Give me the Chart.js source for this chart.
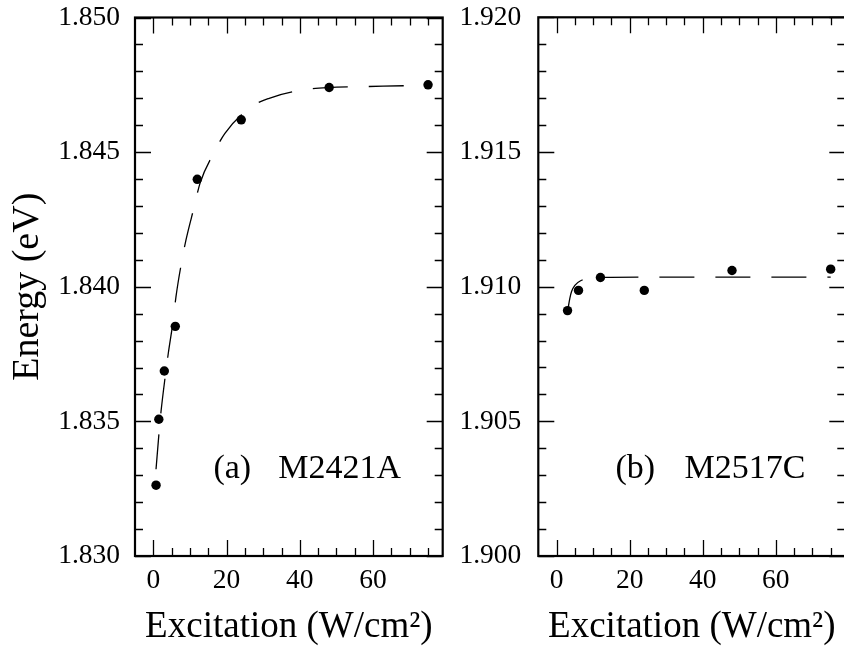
<!DOCTYPE html>
<html><head><meta charset="utf-8">
<script src="https://cdn.jsdelivr.net/npm/chart.js@4.4.0/dist/chart.umd.min.js"></script>
<style>
html,body{margin:0;padding:0;background:#fff;overflow:hidden;width:844px;height:648px;}
#ca{position:absolute;left:0;top:0;}
#cb{position:absolute;left:450px;top:0;}
</style></head><body>
<canvas id="ca" width="450" height="648"></canvas>
<canvas id="cb" width="400" height="648"></canvas>
<script>
// ---- data ----
const excitationA = [0.75, 1.5, 3, 6, 12, 24, 48, 75];
const energyA = [1.83263, 1.83508, 1.83687, 1.83853, 1.84399, 1.84620, 1.84740, 1.84750];
const fitExcitationA = [0.74, 1.55, 2.1, 3.27, 4.09, 5.45, 6.19, 7.74, 8.92, 11.18, 12.74, 16.55, 19.55, 26.37, 31.63, 40.9, 47.8, 56.8, 62.7, 75];
const fitEnergyA = [1.83322, 1.83456, 1.83536, 1.83669, 1.83753, 1.83877, 1.83963, 1.84093, 1.84174, 1.84298, 1.84384, 1.84498, 1.84570, 1.84665, 1.84700, 1.84731, 1.84740, 1.84743, 1.84745, 1.84748];

const excitationB = [3, 6, 12, 24, 48, 75];
const energyB = [1.90911, 1.90986, 1.91034, 1.90986, 1.91060, 1.91065];
const fitExcitationB = [3.1, 3.6, 4.1, 5.0, 6.6, 9.0, 12.0, 24, 48, 75];
const fitEnergyB = [1.90915, 1.90955, 1.90982, 1.91005, 1.91022, 1.91030, 1.91034, 1.91035, 1.91035, 1.91035];

const xTickValues = [0, 20, 40, 60];
const yTickValuesA = [1.830, 1.835, 1.840, 1.845, 1.850];
const yTickValuesB = [1.900, 1.905, 1.910, 1.915, 1.920];
const xAxisTitle = 'Excitation (W/cm\u00B2)';
const yAxisTitle = 'Energy (eV)';
const panelTextA = ['(a)', 'M2421A'];
const panelTextB = ['(b)', 'M2517C'];

// ---- styling ----
const FONT = '"Liberation Serif", "Times New Roman", Times, serif';

const frameTicks = {
  id: 'frameTicks',
  afterDatasetsDraw(chart, args, opts) {
    const {ctx, chartArea: a, scales: {x, y}} = chart;
    ctx.save();
    ctx.strokeStyle = '#000';
    ctx.lineWidth = 1.3;
    ctx.beginPath();
    for (let i = 0; i <= 15; i++) {
      const v = i * 5;
      const px = Math.round(x.getPixelForValue(v)) + 0.5;
      const len = (v % 20 === 0) ? 16 : 8;
      ctx.moveTo(px, a.bottom); ctx.lineTo(px, a.bottom - len);
      ctx.moveTo(px, a.top); ctx.lineTo(px, a.top + len);
    }
    for (let i = 0; i <= 20; i++) {
      const v = y.min + i * 0.001;
      const py = Math.round(y.getPixelForValue(v)) + 0.5;
      const len = (i % 5 === 0) ? 16 : 8;
      ctx.moveTo(a.left, py); ctx.lineTo(a.left + len, py);
      ctx.moveTo(a.right, py); ctx.lineTo(a.right - len, py);
    }
    ctx.stroke();
    ctx.lineWidth = 2.2;
    ctx.strokeRect(a.left, a.top, a.right - a.left, a.bottom - a.top);
    // panel label
    ctx.fillStyle = '#000';
    ctx.font = '34px ' + FONT;
    ctx.textBaseline = 'alphabetic';
    ctx.textAlign = 'left';
    opts.labels.forEach(l => {
      ctx.fillText(l.text, x.getPixelForValue(l.x), y.getPixelForValue(l.y));
    });
    ctx.restore();
  }
};

function noPad(s) { s.paddingTop = 0; s.paddingBottom = 0; s.paddingLeft = 0; s.paddingRight = 0; }

function makeChart(id, cfg) {
  return new Chart(document.getElementById(id), {
    type: 'scatter',
    data: {
      datasets: [
        {
          data: cfg.fitX.map((v, i) => ({x: v, y: cfg.fitY[i]})),
          showLine: true,
          borderColor: '#000',
          borderWidth: 1.3,
          borderDash: [35, 21],
          pointRadius: 0,
          cubicInterpolationMode: 'monotone',
          fill: false
        },
        {
          data: cfg.xs.map((v, i) => ({x: v, y: cfg.ys[i]})),
          showLine: false,
          pointRadius: 4.7,
          pointBackgroundColor: '#000',
          pointBorderColor: '#000',
          pointBorderWidth: 0
        }
      ]
    },
    options: {
      responsive: false,
      animation: false,
      devicePixelRatio: 1,
      layout: {padding: cfg.padding},
      plugins: {
        legend: {display: false},
        tooltip: {enabled: false},
        frameTicks: {labels: cfg.labels}
      },
      scales: {
        x: {
          type: 'linear',
          min: -5, max: 79,
          grid: {display: false, drawTicks: false},
          border: {display: false},
          afterBuildTicks: s => { s.ticks = xTickValues.map(v => ({value: v})); },
          afterFit: s => { s.height = 92; noPad(s); },
          ticks: {
            padding: 8,
            color: '#000',
            font: {family: FONT, size: 27.5},
            callback: v => String(v)
          },
          title: {
            display: true,
            text: xAxisTitle,
            color: '#000',
            font: {family: FONT, size: 37, lineHeight: 1.1},
            padding: {top: 0, bottom: 0}
          }
        },
        y: {
          type: 'linear',
          min: cfg.yTicks[0], max: cfg.yTicks[cfg.yTicks.length - 1],
          grid: {display: false, drawTicks: false},
          border: {display: false},
          afterBuildTicks: s => { s.ticks = cfg.yTicks.map(v => ({value: v})); },
          afterFit: s => { s.width = cfg.yWidth; noPad(s); },
          ticks: {
            padding: cfg.yPad,
            color: '#000',
            font: {family: FONT, size: 27.5},
            callback: v => Number(v).toFixed(3)
          },
          title: {
            display: cfg.showYTitle,
            text: yAxisTitle,
            color: '#000',
            font: {family: FONT, size: 38, lineHeight: 1.1},
            padding: {top: 7, bottom: 0}
          }
        }
      }
    },
    plugins: [frameTicks]
  });
}

makeChart('ca', {
  xs: excitationA, ys: energyA, fitX: fitExcitationA, fitY: fitEnergyA,
  yTicks: yTickValuesA, yWidth: 135, yPad: 15, showYTitle: true,
  padding: {top: 17.5, right: 7.3, left: 0, bottom: 0},
  labels: [{text: panelTextA[0], x: 16.4, y: 1.8329}, {text: panelTextA[1], x: 34.1, y: 1.8329}]
});
makeChart('cb', {
  xs: excitationB, ys: energyB, fitX: fitExcitationB, fitY: fitEnergyB,
  yTicks: yTickValuesB, yWidth: 88.3, yPad: 17, showYTitle: false,
  padding: {top: 17.3, right: 3.7, left: 0, bottom: 0},
  labels: [{text: panelTextB[0], x: 16.1, y: 1.9029}, {text: panelTextB[1], x: 35.0, y: 1.9029}]
});
</script>
</body></html>
